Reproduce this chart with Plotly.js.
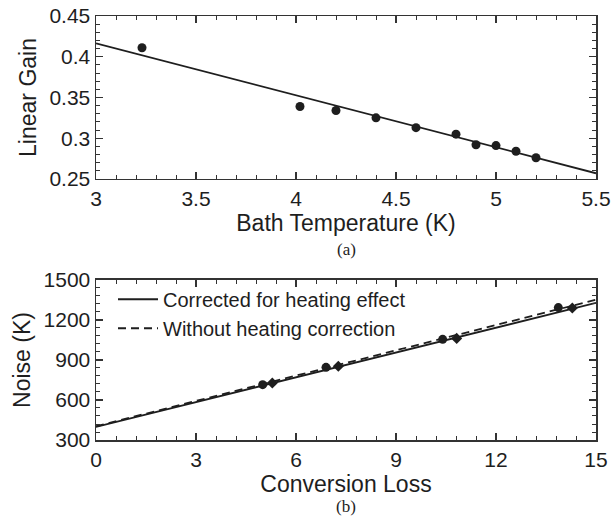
<!DOCTYPE html>
<html>
<head>
<meta charset="utf-8">
<script src="https://cdn.plot.ly/plotly-3.0.1.min.js"></script>
<style>html,body{margin:0;padding:0;background:#fff;}#chart{width:613px;height:516px;}</style>
</head>
<body>
<div id="chart"></div>
<script>
// Panel (a): linear gain vs bath temperature
const bathTemp = [3.23, 4.02, 4.20, 4.40, 4.60, 4.80, 4.90, 5.00, 5.10, 5.20];
const linearGain = [0.411, 0.339, 0.334, 0.325, 0.313, 0.305, 0.292, 0.291, 0.284, 0.276];
const gainFitX = [3.0, 5.5];
const gainFitY = [0.4165, 0.257];

// Panel (b): noise vs conversion loss
const lossUncorrected = [5.0, 6.9, 10.4, 13.87];
const noiseUncorrected = [715, 845, 1055, 1293];
const lossCorrected = [5.29, 7.27, 10.82, 14.29];
const noiseCorrected = [727, 853, 1062, 1290];
const fitX = [0, 15];
const fitCorrected = [398, 1328];
const fitUncorrected = [403, 1352];
const legendNames = ["Corrected for heating effect", "Without heating correction"];

const ink = "#1e1e1e";
const font = {family: "Liberation Sans, Arial, sans-serif", color: ink};

const traces = [
  {x: gainFitX, y: gainFitY, mode: "lines", line: {color: ink, width: 1.8}, xaxis: "x", yaxis: "y", showlegend: false},
  {x: bathTemp, y: linearGain, mode: "markers", marker: {color: ink, size: 9, symbol: "circle"}, xaxis: "x", yaxis: "y", showlegend: false},
  {x: fitX, y: fitCorrected, mode: "lines", name: legendNames[0], line: {color: ink, width: 1.8}, xaxis: "x2", yaxis: "y2", showlegend: true},
  {x: fitX, y: fitUncorrected, mode: "lines", name: legendNames[1], line: {color: ink, width: 1.8, dash: "8px,5px"}, xaxis: "x2", yaxis: "y2", showlegend: true},
  {x: lossUncorrected, y: noiseUncorrected, mode: "markers", marker: {color: ink, size: 9, symbol: "circle"}, xaxis: "x2", yaxis: "y2", showlegend: false},
  {x: lossCorrected, y: noiseCorrected, mode: "markers", marker: {color: ink, size: 8.5, symbol: "diamond"}, xaxis: "x2", yaxis: "y2", showlegend: false}
];

function ax(extra) {
  return Object.assign({
    showgrid: false, zeroline: false, showline: true, linecolor: "#333", linewidth: 1.5,
    mirror: "allticks", ticks: "inside", ticklen: 7, tickwidth: 1.2, tickcolor: "#333",
    tickfont: Object.assign({size: 21}, font)
  }, extra);
}

const layout = {
  width: 613, height: 516,
  paper_bgcolor: "#fff", plot_bgcolor: "#fff",
  margin: {l: 96, r: 17, t: 16, b: 76},
  font: font,
  xaxis: ax({domain: [0, 1], anchor: "y", range: [3, 5.5], dtick: 0.5, tick0: 3,
    minor: {dtick: 0.1, ticks: "inside", ticklen: 4, tickcolor: "#333", tickwidth: 1},
    title: {text: "Bath Temperature (K)", font: Object.assign({size: 23}, font), standoff: 4}}),
  yaxis: ax({domain: [0.6156, 1], anchor: "x", range: [0.25, 0.45], dtick: 0.05, tick0: 0.25,
    minor: {dtick: 0.01, ticks: "inside", ticklen: 4, tickcolor: "#333", tickwidth: 1},
    title: {text: "Linear Gain", font: Object.assign({size: 23}, font), standoff: 6}}),
  xaxis2: ax({domain: [0, 1], anchor: "y2", range: [0, 15], dtick: 3, tick0: 0,
    minor: {dtick: 0.6, ticks: "inside", ticklen: 4, tickcolor: "#333", tickwidth: 1},
    title: {text: "Conversion Loss", font: Object.assign({size: 23}, font), standoff: 4}}),
  yaxis2: ax({domain: [0, 0.3774], anchor: "x2", range: [300, 1500], dtick: 300, tick0: 300,
    minor: {dtick: 60, ticks: "inside", ticklen: 4, tickcolor: "#333", tickwidth: 1},
    title: {text: "Noise (K)", font: Object.assign({size: 23}, font), standoff: 6}}),
  legend: {x: 0.034, y: 0.378, xanchor: "left", yanchor: "top", bgcolor: "rgba(0,0,0,0)",
    font: Object.assign({size: 20}, font), tracegroupgap: 0, itemwidth: 40},
  annotations: [
    {text: "(a)", xref: "paper", yref: "paper", x: 0.5, y: (516 - 76 - 250) / 424, xanchor: "center", yanchor: "middle", showarrow: false,
      font: {family: "Liberation Serif, Times New Roman, serif", size: 17, color: ink}},
    {text: "(b)", xref: "paper", yref: "paper", x: 0.5, y: (516 - 76 - 506) / 424, xanchor: "center", yanchor: "middle", showarrow: false,
      font: {family: "Liberation Serif, Times New Roman, serif", size: 17, color: ink}}
  ]
};

Plotly.newPlot("chart", traces, layout, {displayModeBar: false, staticPlot: true});
</script>
</body>
</html>
